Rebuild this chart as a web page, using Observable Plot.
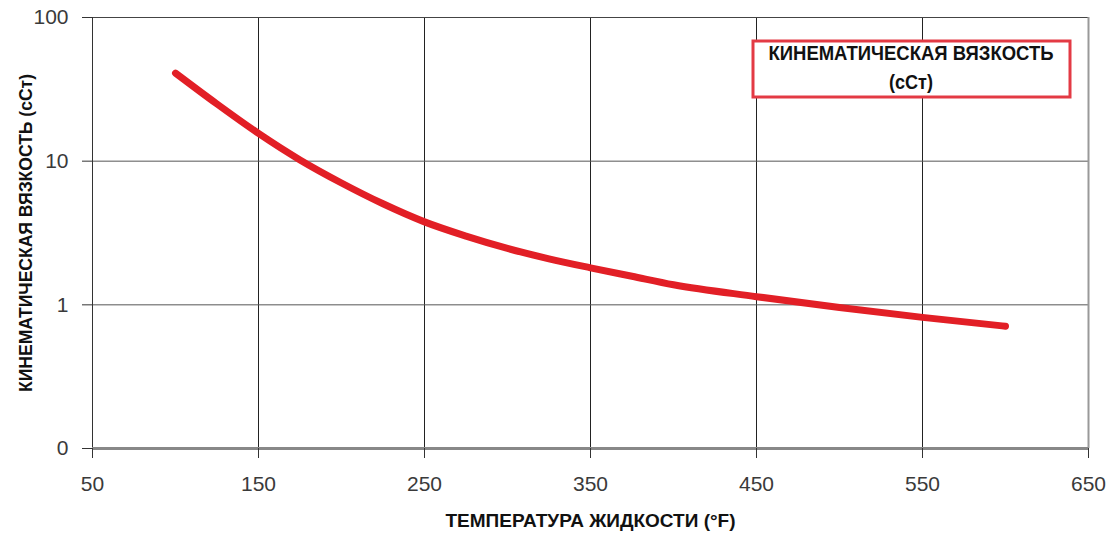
<!DOCTYPE html>
<html>
<head>
<meta charset="utf-8">
<script src="https://cdn.jsdelivr.net/npm/d3@7"></script>
<script src="https://cdn.jsdelivr.net/npm/@observablehq/plot@0.6"></script>
<style>
  html, body { margin: 0; padding: 0; background: #fff; }
  #wrap { position: relative; width: 1113px; height: 539px; }
</style>
</head>
<body>
<div id="wrap"></div>
<script>
// Data
const temperatures = [100, 125, 150, 175, 200, 225, 250, 275, 300, 325, 350, 375, 400, 450, 500, 550, 600];
const viscosity    = [41.0, 25.0, 15.6, 10.2, 7.05, 5.05, 3.78, 3.01, 2.47, 2.09, 1.81, 1.58, 1.38, 1.14, 0.957, 0.818, 0.71];
const xTicks = [50, 150, 250, 350, 450, 550, 650];
const xGrid = [150, 250, 350, 450, 550];
const yTicks = [0.1, 1, 10, 100];
const yTickLabels = ["0", "1", "10", "100"];
const yGrid = [1, 10];
const yLabel = "КИНЕМАТИЧЕСКАЯ ВЯЗКОСТЬ (сСт)";
const xLabel = "ТЕМПЕРАТУРА ЖИДКОСТИ (°F)";
const legendLines = ["КИНЕМАТИЧЕСКАЯ ВЯЗКОСТЬ", "(сСт)"];

const data = temperatures.map((t, i) => ({t, v: viscosity[i]}));
const boldFont = '"Liberation Sans", Arial, sans-serif';

const chart = Plot.plot({
  width: 1113,
  height: 539,
  marginLeft: 92,
  marginTop: 17,
  marginRight: 25,
  marginBottom: 91,
  style: {fontFamily: '"Liberation Sans", Arial, sans-serif', background: "white", color: "#333"},
  x: {domain: [50, 650]},
  y: {type: "log", domain: [0.1, 100]},
  marks: [
    Plot.gridX(xGrid, {stroke: "#222", strokeOpacity: 1}),
    Plot.gridY(yGrid, {stroke: "#555", strokeOpacity: 1}),
    Plot.ruleY([100], {stroke: "#444"}),
    Plot.ruleX([650], {stroke: "#999", strokeWidth: 2}),
    Plot.ruleX([50], {stroke: "#333"}),
    Plot.ruleY([0.1], {stroke: "#888", strokeWidth: 3}),
    Plot.line(data, {x: "t", y: "v", stroke: "#e21f26", strokeWidth: 7, curve: "monotone-x"}),
    Plot.axisX({ticks: xTicks, tickSize: 10, tickPadding: 18, fontSize: 21, label: null, stroke: "#333", fill: "#3a3a3a"}),
    Plot.axisY({ticks: yTicks, tickFormat: d => yTickLabels[yTicks.indexOf(d)], tickSize: 10, tickPadding: 14, fontSize: 21, label: null, stroke: "#333", fill: "#3a3a3a"}),
    Plot.text([yLabel], {frameAnchor: "left", textAnchor: "middle", rotate: -90, dx: -67, fontSize: 19, fontWeight: "bold", fontFamily: boldFont, fill: "#111", text: d => d, className: "ylab"}),
    Plot.text([xLabel], {frameAnchor: "bottom", dy: 78, fontSize: 19, fontWeight: "bold", fontFamily: boldFont, fill: "#111", text: d => d, className: "xlab"})
  ]
});
document.getElementById("wrap").appendChild(chart);

const svg = d3.select(chart);
svg.selectAll(".ylab text").attr("textLength", 318).attr("lengthAdjust", "spacingAndGlyphs");
svg.selectAll(".xlab text").attr("textLength", 290).attr("lengthAdjust", "spacingAndGlyphs");

// Legend box
const lg = svg.append("g").attr("class", "legend");
lg.append("rect").attr("x", 753).attr("y", 41).attr("width", 317).attr("height", 56)
  .attr("fill", "white").attr("stroke", "#e33a44").attr("stroke-width", 3);
const lens = [285, 44];
const baselines = [60, 89];
legendLines.forEach((l, i) => {
  lg.append("text").attr("x", 911).attr("y", baselines[i]).attr("text-anchor", "middle")
    .attr("font-family", boldFont).attr("font-weight", "bold").attr("font-size", 20).attr("fill", "#111")
    .attr("textLength", lens[i]).attr("lengthAdjust", "spacingAndGlyphs").text(l);
});
</script>
</body>
</html>
